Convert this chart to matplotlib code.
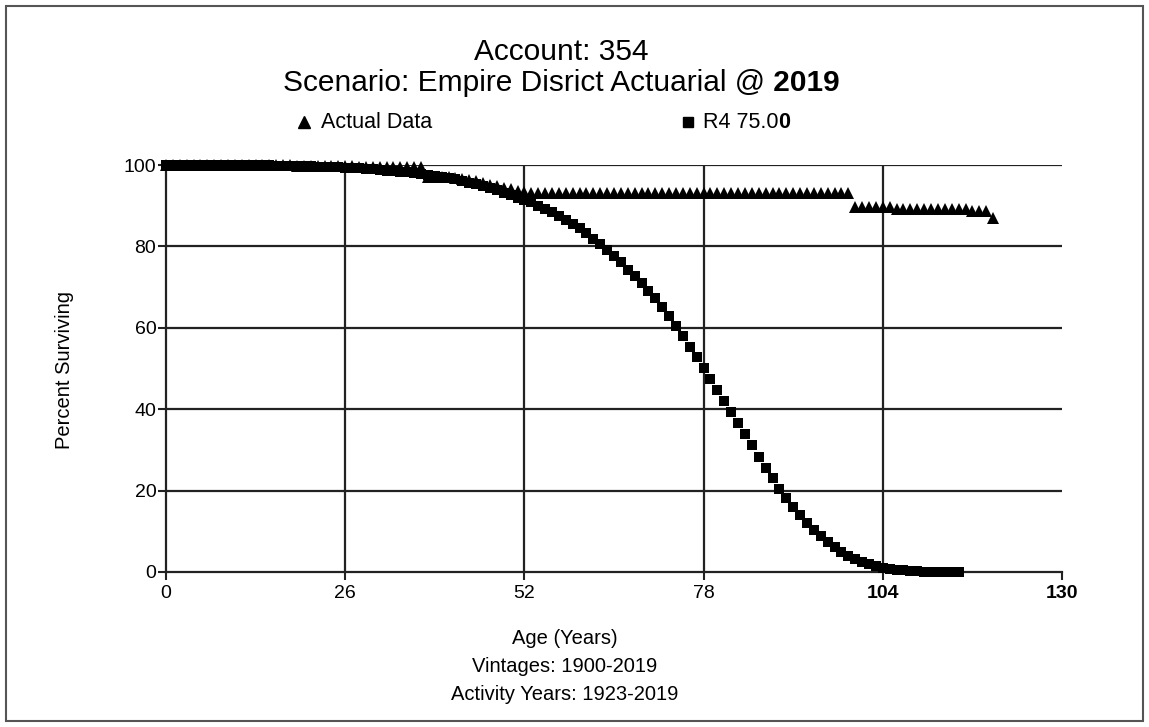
import matplotlib
matplotlib.use("Agg")
import matplotlib.pyplot as plt
from matplotlib.patches import Rectangle
from matplotlib.lines import Line2D

plt.rcParams['font.family'] = ['Liberation Sans', 'DejaVu Sans']

title_line1 = "Account: 354"
title_line2_parts = [("Scenario: Empire Disrict Actuarial @", "normal"), (" 2019", "bold")]
xlabel_lines = ["Age (Years)", "Vintages: 1900-2019", "Activity Years: 1923-2019"]
ylabel = "Percent Surviving"
legend_actual = "Actual Data"
legend_r4_parts = [("R4 75.0", "normal"), ("0", "bold")]
x_ticks = [0, 26, 52, 78, 104, 130]
y_ticks = [0, 20, 40, 60, 80, 100]

# Actual data (observed life table), ages 0..120
actual_ages = list(range(0, 121))
actual_pct = (
    [100.0] * 19 +                      # 0-18
    [99.7] * 9 +                        # 19-27
    [99.5] * 10 +                       # 28-37
    [97.0, 97.0, 97.0, 97.0, 96.8, 96.6, 96.3, 96.0, 95.6, 95.2,
     94.8, 94.4, 94.0, 93.6, 93.3] +    # 38-52
    [93.0] * 47 +                       # 53-99
    [89.6] * 6 +                        # 100-105
    [89.2] * 11 +                       # 106-116
    [88.6, 88.6, 88.6, 87.0]            # 117-120
)

# R4 Iowa curve, average life 75, ages 0..115
r4_ages = list(range(0, 116))
r4_pct = [
    100.0, 100.0, 100.0, 100.0, 100.0, 100.0, 100.0, 100.0, 99.99, 99.99,
    99.98, 99.97, 99.96, 99.95, 99.93, 99.90, 99.87, 99.84, 99.80, 99.76,
    99.72, 99.67, 99.62, 99.57, 99.50, 99.43, 99.35, 99.26, 99.16, 99.05,
    98.90, 98.78, 98.64, 98.49, 98.33, 98.16, 97.98, 97.80, 97.60, 97.40,
    97.10, 96.80, 96.50, 96.10, 95.70, 95.30, 94.80, 94.30, 93.80, 93.20,
    92.60, 91.90, 91.50, 90.80, 90.00, 89.20, 88.40, 87.50, 86.50, 85.50,
    84.40, 83.20, 81.90, 80.60, 79.20, 77.70, 76.10, 74.20, 72.80, 71.00,
    69.10, 67.20, 65.20, 63.00, 60.50, 58.00, 55.40, 52.80, 50.10, 47.40,
    44.70, 42.00, 39.30, 36.60, 33.90, 31.10, 28.30, 25.60, 23.00, 20.50,
    18.20, 16.00, 14.00, 12.10, 10.40, 8.80, 7.40, 6.10, 5.00, 4.00,
    3.20, 2.50, 1.90, 1.40, 1.00, 0.75, 0.55, 0.40, 0.30, 0.20,
    0.12, 0.08, 0.05, 0.03, 0.01, 0.0,
]

W, H = 1149, 727
fig = plt.figure(figsize=(W / 100, H / 100), dpi=100)
renderer = fig.canvas.get_renderer()
fig.patches.append(Rectangle((6 / W, 6 / H), 1137 / W, 715 / H,
                             transform=fig.transFigure, fill=False,
                             edgecolor='#555555', linewidth=1.5))

ax = fig.add_axes([166 / W, 1 - 572 / H, (1062 - 166) / W, (572 - 165) / H])
ax.set_xlim(0, 130)
ax.set_ylim(0, 100)

for x in x_ticks[1:-1]:
    ax.axvline(x, color='#222222', linewidth=1.6, zorder=1)
for y in y_ticks[1:]:
    ax.axhline(y, color='#222222', linewidth=1.6, zorder=1)

ax.plot(actual_ages, actual_pct, linestyle='none', marker='^', markersize=8,
        color='black', markeredgewidth=0, zorder=3, clip_on=False)
ax.plot(r4_ages, r4_pct, linestyle='none', marker='s', markersize=7.5,
        color='black', markeredgewidth=0, zorder=4, clip_on=False)

for s in ['top', 'right']:
    ax.spines[s].set_visible(False)
for s in ['left', 'bottom']:
    ax.spines[s].set_color('#222222')
    ax.spines[s].set_linewidth(1.6)

ax.set_xticks(x_ticks)
ax.set_yticks(y_ticks)
ax.set_xticklabels([str(t) for t in x_ticks], fontsize=14)
ax.set_yticklabels([str(t) for t in y_ticks], fontsize=14)
for lbl in ax.get_xticklabels():
    if lbl.get_text() in ("104", "130"):
        lbl.set_fontweight('bold')
ax.tick_params(axis='both', direction='out', length=6, width=1.5, color='#222222')
ax.tick_params(axis='x', pad=3)
ax.tick_params(axis='y', pad=1)


def mixed_text(x_px, y_px, parts, fontsize, align='center'):
    texts = [fig.text(0, 1 - y_px / H, s, fontsize=fontsize, fontweight=wt,
                      ha='left', va='center') for s, wt in parts]
    widths = [t.get_window_extent(renderer).width for t in texts]
    x = x_px - sum(widths) / 2 if align == 'center' else x_px
    for t, w in zip(texts, widths):
        t.set_x(x / W)
        x += w


fig.text(561 / W, 1 - 52 / H, title_line1, ha='center', va='center', fontsize=21.5)
mixed_text(561, 83, title_line2_parts, 21.5)

fig.text(64 / W, 1 - 370 / H, ylabel, rotation=90, ha='center', va='center', fontsize=14.5)

for txt, yy in zip(xlabel_lines, [638, 667, 695]):
    fig.text(565 / W, 1 - yy / H, txt, ha='center', va='center', fontsize=14.5)

# legend
fig.add_artist(Line2D([304 / W], [1 - 122 / H], transform=fig.transFigure,
                      marker='^', markersize=8, color='black', linestyle='none'))
fig.text(321 / W, 1 - 122 / H, legend_actual, ha='left', va='center', fontsize=15.5)
fig.add_artist(Line2D([688 / W], [1 - 122 / H], transform=fig.transFigure,
                      marker='s', markersize=7, color='black', linestyle='none'))
mixed_text(703, 122, legend_r4_parts, 15.5, align='left')

fig.savefig("out.png", dpi=100, facecolor='white')
